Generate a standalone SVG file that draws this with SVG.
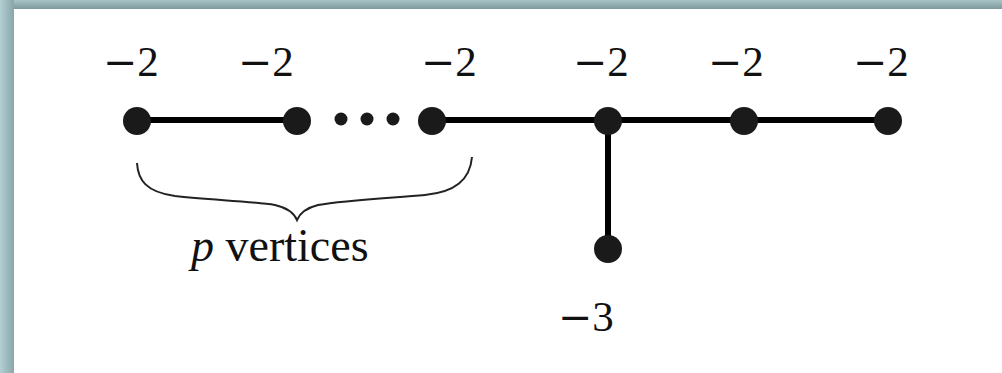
<svg xmlns="http://www.w3.org/2000/svg" width="1002" height="373" viewBox="0 0 1002 373">
<defs>
<linearGradient id="gTop" x1="0" y1="0" x2="0" y2="1">
<stop offset="0" stop-color="#a9c4c7"/>
<stop offset="1" stop-color="#7f9a9e"/>
</linearGradient>
<linearGradient id="gLeft" x1="0" y1="0" x2="1" y2="0">
<stop offset="0" stop-color="#b2cfd2"/>
<stop offset="1" stop-color="#8aa6aa"/>
</linearGradient>
<style>
.lbl{font-family:"Liberation Serif","Times New Roman",serif;font-size:43px;fill:#111}
.m{font-family:"DejaVu Serif",serif;font-size:41px}
.node{fill:#1a1a1a}
.edge{stroke:#000;stroke-width:6;fill:none}
.dot{fill:#1a1a1a}
</style>
</defs>
<rect x="0" y="0" width="1002" height="373" fill="#fff"/>
<rect x="0" y="0" width="1002" height="9" fill="url(#gTop)"/>
<rect x="0" y="0" width="14" height="373" fill="url(#gLeft)"/>
<g id="connectors">
<line class="edge" x1="137" y1="120" x2="297" y2="120"/>
<line class="edge" x1="432" y1="120" x2="888" y2="120"/>
<line class="edge" x1="608" y1="120" x2="608" y2="249"/>
</g>
<g id="n1"><circle class="node" cx="137" cy="121" r="14"/><text class="lbl" x="103" y="76"><tspan class="m">−</tspan>2</text></g>
<g id="n2"><circle class="node" cx="297" cy="121" r="14"/><text class="lbl" x="238" y="76"><tspan class="m">−</tspan>2</text></g>
<g id="ellipsis"><circle class="dot" cx="341" cy="119" r="6.5"/><circle class="dot" cx="367" cy="119" r="6.5"/><circle class="dot" cx="393" cy="119" r="6.5"/></g>
<g id="n3"><circle class="node" cx="432" cy="121" r="14"/><text class="lbl" x="421" y="76"><tspan class="m">−</tspan>2</text></g>
<g id="n4"><circle class="node" cx="608" cy="121" r="14"/><text class="lbl" x="573" y="76"><tspan class="m">−</tspan>2</text></g>
<g id="n5"><circle class="node" cx="744" cy="121" r="14"/><text class="lbl" x="708" y="76"><tspan class="m">−</tspan>2</text></g>
<g id="n6"><circle class="node" cx="888" cy="121" r="14"/><text class="lbl" x="853" y="76"><tspan class="m">−</tspan>2</text></g>
<g id="n7"><circle class="node" cx="608" cy="249" r="14"/><text class="lbl" x="558" y="331"><tspan class="m">−</tspan>3</text></g>
<g id="brace">
<path d="M137,163 C138,180 146,192 175,196 C210,200 250,201 275,205 C288,208 294,213 297,220 C300,213 306,208 318,205 C345,200 390,198 425,195 C455,192 470,180 472,157" fill="none" stroke="#222" stroke-width="2"/>
<text class="lbl" x="191" y="261" font-size="46px" style="font-size:46px"><tspan font-style="italic">p</tspan> vertices</text>
</g>
</svg>
